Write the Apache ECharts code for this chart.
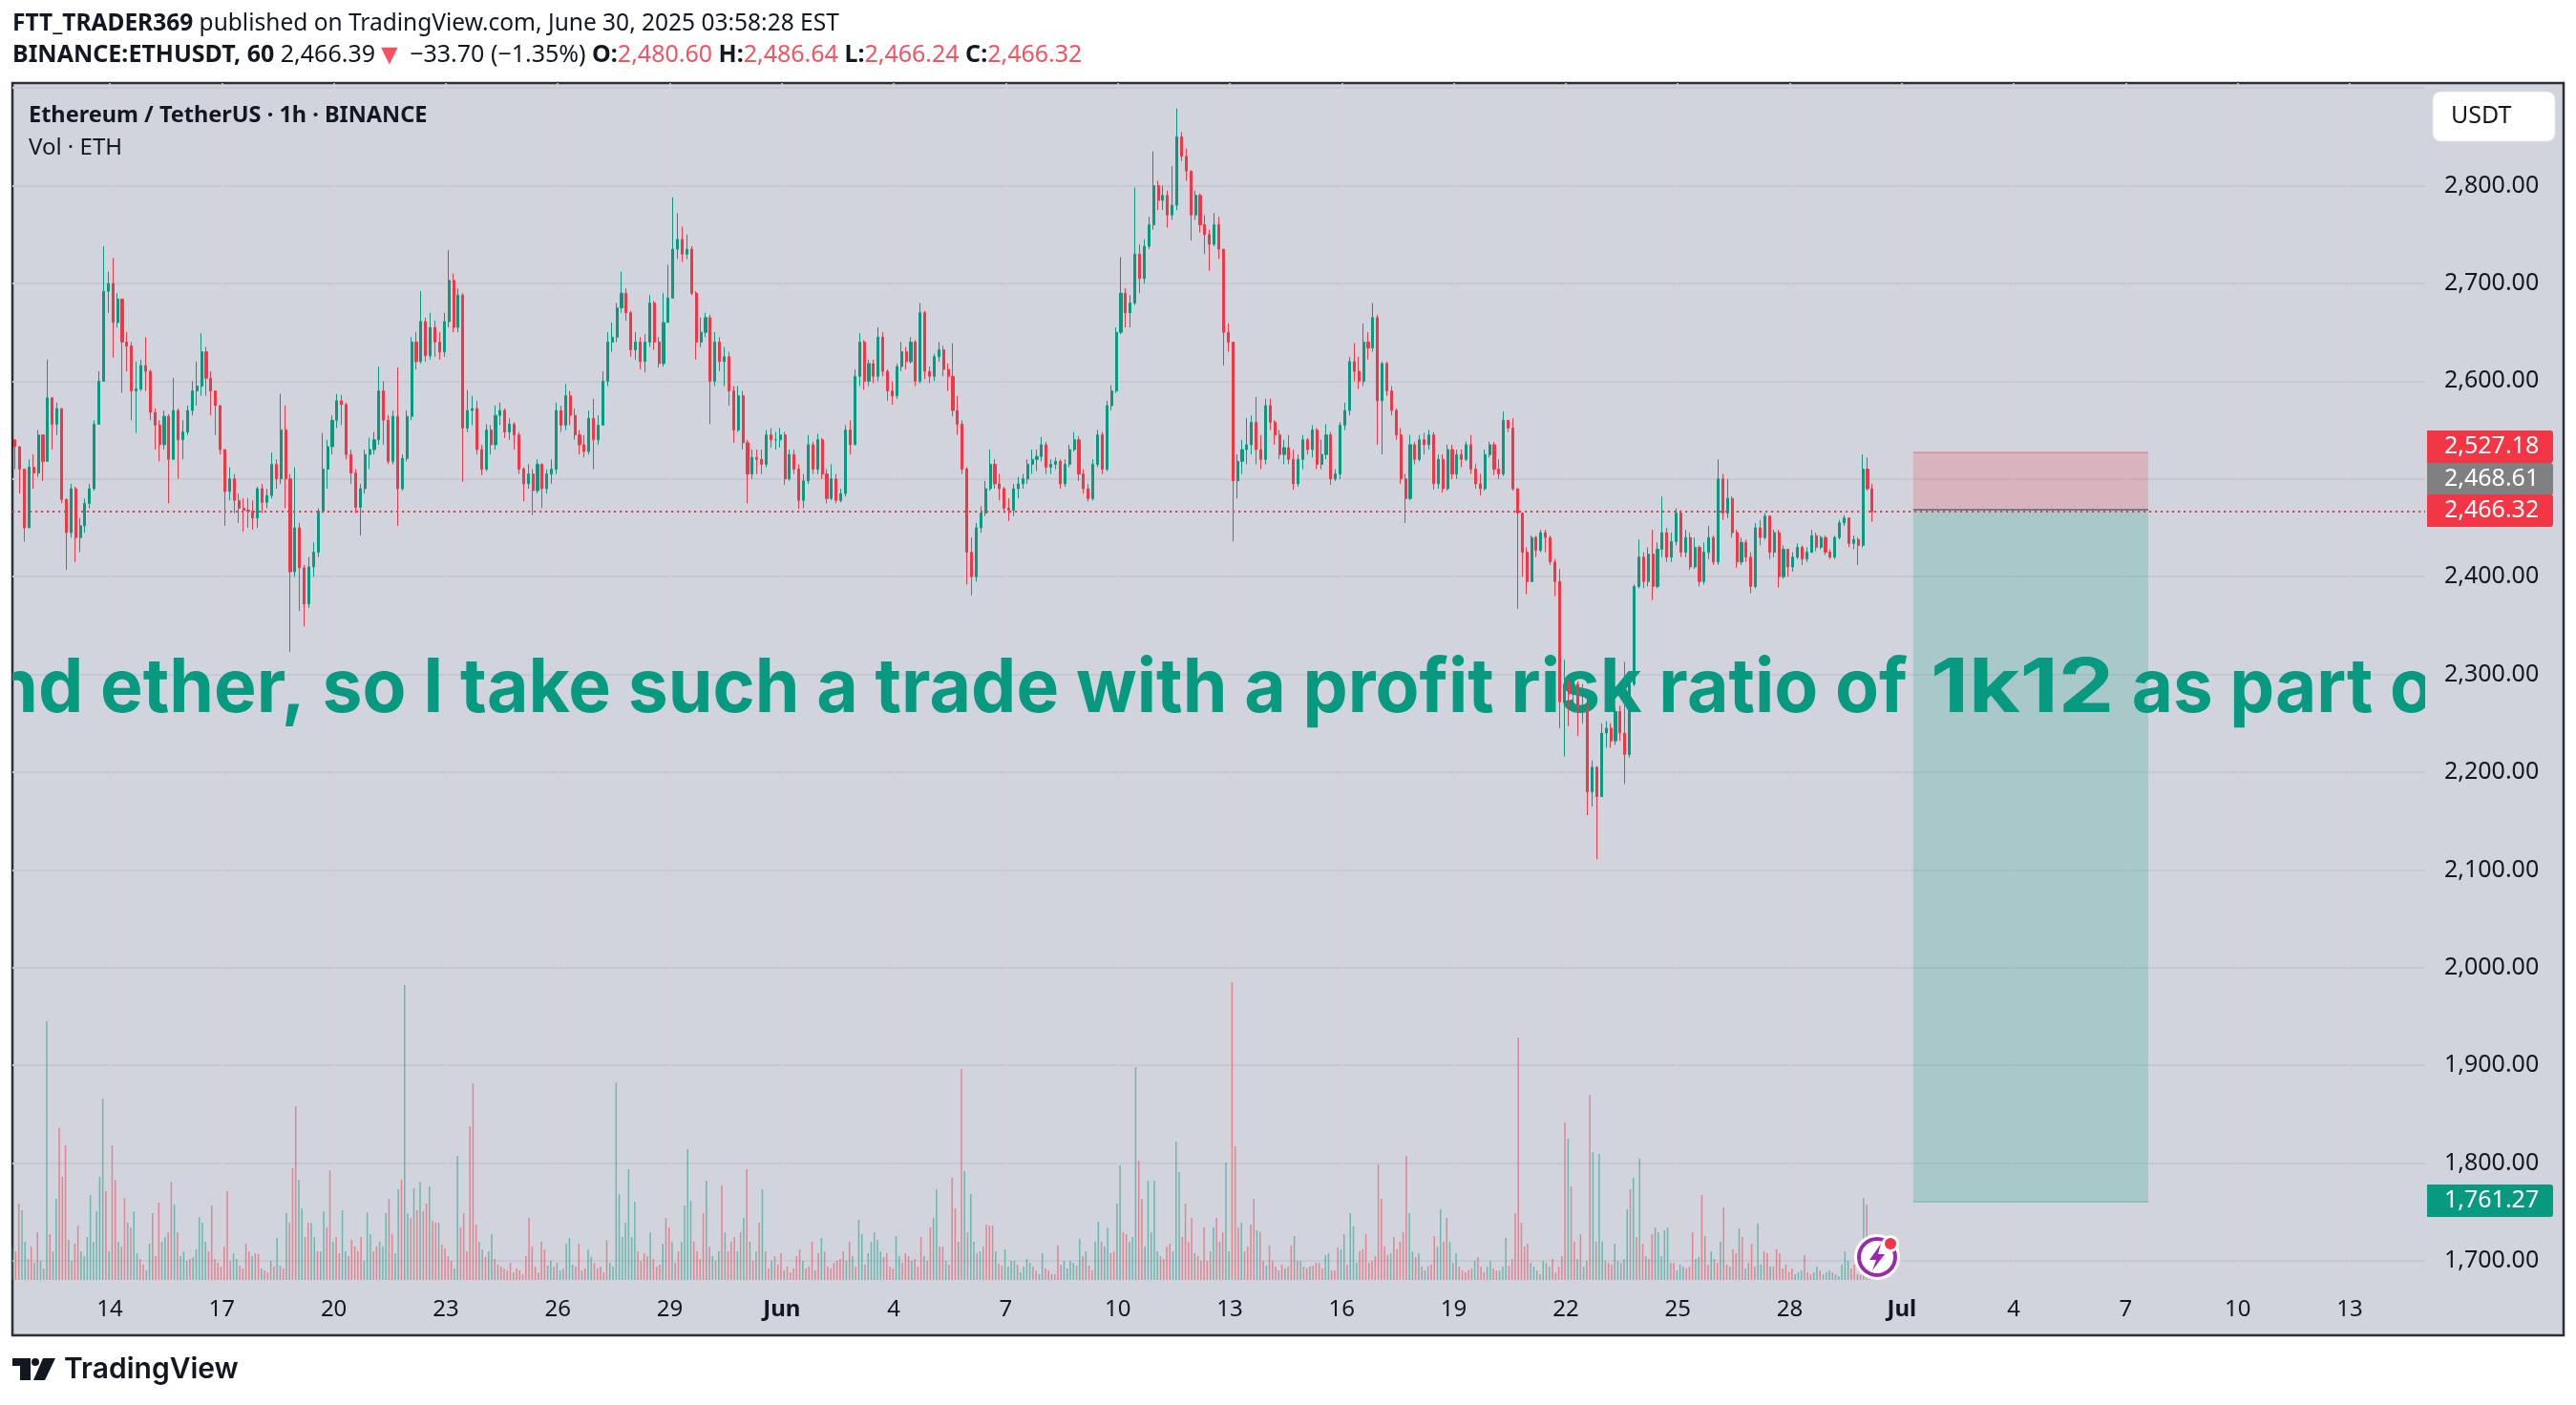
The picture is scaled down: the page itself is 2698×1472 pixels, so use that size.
<!DOCTYPE html>
<html>
<head>
<meta charset="utf-8">
<title>ETHUSDT</title>
<style>
html, body { margin: 0; padding: 0; background: #fff; }
#main { width: 2698px; height: 1472px; }
</style>
<script src="https://cdn.jsdelivr.net/npm/echarts@6.0.0/dist/echarts.min.js"></script>
</head>
<body>
<div id="main"></div>
<script>
// 3h candles, open of each bar is the close before it
var firstOpen = 2540;
var candleStart = Date.UTC(2025, 4, 11, 11);
var candleHours = 3;
var closes = [
2533,2510,2450,2512,2506,2545,2518,2583,2556,2572,2479,2445,2490,2440,2452,2475,2490,2556,2600,2692,
2700,2660,2684,2640,2636,2590,2592,2616,2610,2568,2555,2535,2564,2520,2570,2540,2548,2570,2590,2595,
2630,2603,2590,2575,2530,2487,2500,2478,2470,2468,2467,2460,2490,2476,2483,2515,2500,2550,2500,2405,
2450,2409,2372,2410,2425,2467,2510,2533,2560,2580,2576,2525,2506,2471,2490,2525,2530,2540,2590,2560,
2518,2564,2490,2521,2564,2640,2620,2661,2626,2655,2640,2630,2661,2703,2655,2688,2552,2570,2572,2530,
2510,2550,2535,2565,2570,2548,2556,2545,2510,2495,2505,2488,2515,2490,2505,2510,2570,2555,2585,2565,
2545,2535,2528,2562,2540,2555,2600,2640,2645,2675,2690,2670,2632,2640,2620,2640,2680,2640,2618,2660,
2685,2735,2745,2730,2735,2690,2640,2650,2665,2600,2640,2620,2625,2590,2550,2585,2537,2505,2522,2520,
2515,2545,2540,2540,2545,2500,2525,2510,2478,2498,2535,2510,2540,2505,2480,2500,2478,2485,2550,2535,
2605,2640,2600,2618,2605,2645,2610,2590,2585,2615,2630,2620,2640,2600,2670,2610,2605,2625,2632,2612,
2605,2570,2556,2510,2425,2400,2450,2465,2490,2515,2495,2490,2470,2468,2490,2495,2500,2515,2520,2523,
2535,2512,2515,2518,2495,2515,2530,2540,2505,2490,2480,2515,2545,2510,2575,2590,2650,2690,2670,2680,
2730,2705,2738,2760,2800,2785,2790,2770,2780,2850,2830,2815,2770,2790,2760,2750,2740,2760,2735,2650,
2640,2498,2518,2530,2535,2558,2530,2520,2575,2558,2545,2525,2532,2520,2495,2520,2540,2530,2550,2515,
2525,2545,2500,2505,2555,2570,2620,2610,2600,2640,2634,2665,2580,2618,2590,2570,2545,2500,2480,2535,
2520,2540,2535,2545,2495,2520,2490,2530,2505,2525,2520,2535,2510,2495,2490,2525,2535,2510,2505,2560,
2552,2490,2465,2425,2395,2440,2427,2445,2440,2415,2395,2272,2290,2280,2290,2265,2265,2180,2205,2175,
2240,2245,2232,2262,2240,2218,2290,2390,2420,2395,2423,2390,2428,2445,2420,2436,2465,2425,2440,2410,
2430,2395,2425,2440,2415,2500,2465,2480,2445,2415,2435,2420,2390,2450,2440,2462,2425,2445,2400,2428,
2410,2420,2430,2418,2425,2442,2430,2440,2425,2420,2440,2455,2460,2434,2438,2432,2510,2490,2466.32
];
var highs = [
2538,2533,2510,2520,2525,2550,2545,2622,2583,2578,2572,2480,2495,2492,2460,2480,2495,2560,2610,2738,
2712,2726,2690,2680,2650,2640,2620,2622,2645,2612,2572,2560,2570,2566,2603,2572,2560,2575,2600,2620,
2649,2635,2610,2590,2575,2530,2512,2505,2485,2480,2480,2478,2492,2495,2490,2527,2520,2587,2575,2505,
2512,2455,2412,2420,2435,2470,2547,2540,2565,2587,2586,2578,2530,2510,2495,2530,2542,2548,2615,2600,
2565,2570,2614,2525,2570,2645,2650,2692,2665,2670,2662,2650,2670,2734,2710,2695,2690,2591,2585,2580,
2535,2556,2555,2575,2578,2572,2562,2558,2548,2512,2515,2510,2520,2516,2510,2520,2578,2575,2597,2590,
2572,2550,2545,2570,2582,2565,2610,2650,2660,2680,2712,2695,2672,2650,2645,2648,2688,2682,2645,2690,
2719,2788,2772,2758,2750,2738,2692,2665,2670,2668,2650,2645,2635,2630,2595,2595,2590,2540,2530,2530,
2530,2550,2552,2548,2552,2548,2530,2530,2515,2505,2545,2538,2546,2542,2510,2515,2505,2490,2555,2560,
2612,2649,2642,2622,2622,2655,2650,2612,2600,2618,2640,2635,2645,2642,2680,2672,2615,2628,2640,2636,
2618,2639,2585,2560,2512,2440,2455,2472,2498,2530,2520,2505,2492,2480,2495,2502,2505,2520,2530,2530,
2543,2538,2520,2522,2520,2520,2535,2548,2544,2510,2495,2520,2550,2548,2580,2596,2655,2727,2695,2688,
2798,2740,2745,2768,2835,2805,2800,2795,2820,2879,2855,2838,2815,2795,2792,2770,2755,2772,2768,2735,
2659,2640,2525,2540,2562,2565,2584,2545,2582,2582,2560,2550,2540,2545,2530,2525,2545,2542,2555,2552,
2540,2556,2548,2510,2558,2578,2625,2639,2625,2659,2650,2680,2668,2620,2620,2595,2572,2552,2505,2545,
2538,2545,2547,2550,2548,2525,2525,2535,2535,2530,2530,2538,2545,2515,2505,2530,2538,2538,2520,2569,
2558,2562,2490,2436,2430,2442,2442,2448,2448,2442,2418,2408,2315,2295,2300,2293,2290,2270,2212,2206,
2250,2252,2250,2265,2268,2313,2295,2392,2438,2425,2430,2448,2435,2482,2450,2445,2470,2468,2448,2445,
2440,2432,2435,2452,2442,2520,2505,2500,2482,2448,2440,2438,2425,2455,2458,2465,2462,2448,2448,2432,
2418,2425,2434,2432,2430,2448,2445,2442,2442,2428,2442,2458,2463,2458,2442,2440,2525,2522,2495
];
var lows = [
2510,2485,2436,2450,2490,2502,2498,2518,2530,2545,2475,2407,2440,2415,2425,2445,2470,2488,2556,2600,
2670,2624,2655,2588,2610,2560,2547,2590,2590,2560,2530,2518,2530,2475,2520,2500,2520,2545,2565,2575,
2585,2585,2565,2545,2525,2452,2478,2465,2455,2446,2450,2448,2450,2465,2470,2480,2490,2495,2470,2323,
2400,2365,2349,2368,2400,2420,2465,2490,2525,2552,2555,2520,2495,2465,2442,2485,2510,2525,2535,2535,
2515,2515,2452,2488,2518,2560,2612,2618,2620,2622,2625,2622,2625,2655,2650,2650,2497,2548,2555,2525,
2504,2508,2525,2530,2555,2542,2540,2530,2505,2477,2490,2463,2485,2470,2485,2495,2505,2548,2550,2555,
2540,2525,2522,2525,2510,2535,2555,2595,2630,2640,2670,2662,2625,2622,2612,2609,2635,2632,2614,2615,
2670,2730,2725,2722,2725,2688,2622,2635,2645,2556,2595,2610,2595,2575,2537,2548,2530,2475,2500,2505,
2505,2512,2532,2530,2532,2494,2498,2505,2469,2470,2495,2505,2505,2500,2475,2478,2475,2476,2482,2525,
2535,2595,2591,2595,2598,2600,2605,2580,2576,2582,2610,2612,2618,2595,2598,2602,2598,2600,2620,2605,
2590,2564,2545,2505,2392,2381,2395,2445,2462,2488,2490,2478,2465,2457,2462,2480,2490,2495,2505,2508,
2518,2505,2505,2510,2490,2492,2512,2528,2498,2485,2477,2478,2512,2505,2508,2570,2588,2648,2655,2655,
2678,2690,2700,2735,2755,2775,2775,2757,2765,2775,2825,2805,2744,2765,2752,2730,2713,2738,2725,2616,
2630,2436,2480,2505,2515,2525,2515,2510,2515,2550,2535,2520,2515,2515,2489,2492,2510,2525,2522,2510,
2510,2520,2494,2498,2500,2550,2565,2600,2592,2595,2622,2630,2535,2525,2585,2565,2540,2495,2455,2478,
2515,2518,2525,2530,2489,2490,2486,2488,2500,2500,2512,2518,2505,2490,2483,2488,2522,2504,2500,2503,
2548,2488,2367,2400,2382,2395,2420,2425,2425,2412,2380,2245,2216,2247,2272,2237,2250,2156,2165,2111,
2175,2225,2225,2228,2232,2188,2215,2288,2388,2388,2390,2376,2388,2420,2415,2415,2432,2420,2420,2407,
2408,2390,2392,2418,2412,2412,2458,2460,2440,2409,2412,2415,2383,2388,2432,2438,2418,2420,2389,2398,
2400,2405,2418,2412,2415,2424,2426,2428,2422,2418,2418,2438,2452,2430,2428,2412,2430,2488,2456
];
// volume at 2h spacing, negative means a falling bar
var volumeStart = Date.UTC(2025, 4, 11, 9, 30);
var volumeHours = 2;
var volumes = [
34,-30,-80,73,40,-22,-35,18,-50,20,-12,271,-48,30,85,-159,-108,-141,42,-20,
-38,-57,30,25,45,89,40,72,108,190,-93,30,-141,-105,40,-35,-86,60,-55,72,
28,-22,-16,10,38,-70,-25,-81,40,45,-50,-103,79,-50,25,30,20,-22,24,32,
66,60,40,-30,-78,-22,-18,-14,-35,-93,-20,28,22,-15,-12,-38,-30,25,-28,-27,
12,-10,-8,20,-14,44,-15,-12,70,-60,-117,-182,105,75,-45,-60,60,45,-30,30,
72,-55,-115,40,-45,-28,73,30,-25,-42,-35,-30,-45,20,71,48,-30,-35,40,35,
70,-85,-48,28,95,-105,309,70,-65,96,-73,103,-72,-80,98,-62,-60,60,-37,-33,
-25,-20,12,130,-55,-70,-30,-161,-206,-58,40,-32,-24,30,48,-22,16,-14,-12,-10,
-18,-8,-12,-10,-6,-25,-65,-35,-14,-8,-40,-32,15,20,-14,18,10,-12,38,44,
16,-14,-38,10,-12,32,24,-18,-12,-14,-8,-42,18,14,207,90,45,60,116,45,
82,-30,-20,-28,-25,50,-22,-14,-16,38,-65,-55,40,-18,-30,40,78,137,83,-40,
-30,-22,-70,104,-35,25,-20,30,-99,50,-30,-40,-45,30,-50,65,-116,40,-20,30,
-60,95,-30,-12,20,-25,-16,-28,10,-14,-8,-12,-25,-32,20,-12,-14,-40,-10,-28,
44,-30,-14,-12,-18,-20,-22,-30,20,-40,25,-14,63,48,-16,28,40,50,42,30,
-24,-28,-14,-12,46,25,-18,-28,-25,20,-22,-14,-45,25,-20,-55,65,95,-35,-35,
20,-16,-107,-75,40,-221,114,-50,90,40,-28,30,-35,-58,-57,-57,30,-17,-15,32,
14,20,20,-16,8,14,22,18,-14,-10,6,28,-12,-10,6,-6,-36,-16,20,12,
20,18,-15,43,-25,30,-15,-10,40,61,-40,35,55,-28,-30,80,120,-50,-48,40,
45,223,-125,-85,35,104,50,104,30,-25,-22,-35,-38,30,145,113,-45,-80,-40,-65,
28,-25,-20,-55,-20,-30,55,-65,40,-50,123,30,-312,-140,-55,60,-30,-35,-58,-85,
52,-50,-20,15,-36,-20,-14,10,-16,12,-14,-36,46,-20,20,-14,-12,14,-15,-18,
-18,-12,26,28,-10,-10,-34,32,48,-16,70,56,18,-30,-32,-48,-18,-20,-25,-121,
-85,-35,-26,28,-45,-32,-40,-50,-130,70,30,-24,28,-14,10,-14,-16,-46,35,74,
-40,-65,40,-18,28,-14,-10,-8,-10,-12,20,-24,-14,-8,14,20,-12,-10,10,14,
44,-15,-22,-70,-254,-60,-35,-38,18,14,-10,6,20,-18,14,-22,-8,-14,-25,-165,
148,-98,-40,22,-48,14,-20,-194,134,-40,132,40,-20,-18,-16,38,20,-18,22,74,
-95,107,-45,127,-38,25,-22,-48,55,50,25,52,55,-18,-18,10,16,14,-12,-14,
-50,22,24,-89,-46,-16,30,-22,-18,40,-76,-16,14,-32,-28,54,-45,12,-18,-38,
-14,59,16,-30,-28,14,-14,-32,-28,-12,-16,-8,-12,6,8,10,-26,-8,-6,8,
14,-10,6,8,10,-8,6,4,16,30,20,-12,-16,6,-5,86,-79,45,-8,-5
];
var priceTicks = [1700,1800,1900,2000,2100,2200,2300,2400,2500,2600,2700,2800,2900];
// 2,500 sits under the price tags and 2,900 under the currency button
var priceLabels = [1700,1800,1900,2000,2100,2200,2300,2400,2600,2700,2800];
var dateTicks = [
[4,14],[4,17],[4,20],[4,23],[4,26],[4,29],[5,1],[5,4],[5,7],[5,10],[5,13],[5,16],[5,19],[5,22],[5,25],[5,28],
[6,1],[6,4],[6,7],[6,10],[6,13]
];
var dateLabels = ['14','17','20','23','26','29','Jun','4','7','10','13','16','19','22','25','28','Jul','4','7','10','13'];
var stopPrice = 2527.18;
var entryPrice = 2468.61;
var lastPrice = 2466.32;
var targetPrice = 1761.27;
var noteParts = ['nd ether, so I take such a trade with a profit risk ratio of', '1k12', 'as part o'];
var noteDays = [9.885, 61.77, 67.16];
var noteStretch = [0.962, 1.19, 0.955];
var notePrice = 2284;

var GREEN = '#089981', RED = '#f23645', INK = '#131722', PANE = '#d1d4dc';
var FONT = '"Noto Sans", "Open Sans", sans-serif';

// the x axis counts days from May 1
function day(month, date, h, m) {
    return (Date.UTC(2025, month, date, h || 0, m || 0) - Date.UTC(2025, 4, 1)) / 86400000;
}
var boxStart = day(6, 1, 7, 24);
var boxEnd = day(6, 7, 14, 30);
var hourInDays = 1 / 24;
var candleFirst = (candleStart - Date.UTC(2025, 4, 1)) / 86400000;
var volumeFirst = (volumeStart - Date.UTC(2025, 4, 1)) / 86400000;

var candleData = [];
for (var i = 0; i < closes.length; i++) {
    var open = i == 0 ? firstOpen : closes[i - 1];
    candleData.push([candleFirst + i * candleHours * hourInDays, open, closes[i], lows[i], highs[i]]);
}
var volumeData = [];
for (var j = 0; j < volumes.length; j++) {
    volumeData.push({
        value: [volumeFirst + j * volumeHours * hourInDays, Math.abs(volumes[j])],
        itemStyle: { color: volumes[j] < 0 ? 'rgba(242,54,69,0.5)' : 'rgba(8,153,129,0.5)' }
    });
}
var tickDays = dateTicks.map(function (d) { return day(d[0], d[1]); });

function tag(y, h, color, text) {
    return {
        type: 'group', z: 20,
        children: [
            { type: 'rect', shape: { x: 2542, y: y, width: 132, height: h, r: [0, 3, 3, 0] }, style: { fill: color } },
            { type: 'text', style: { x: 2560, y: y + h / 2, text: text, fill: '#fff', font: '25px ' + FONT, textVerticalAlign: 'middle' } }
        ]
    };
}

var chart = echarts.init(document.getElementById('main'));
chart.setOption({
    animation: false,
    backgroundColor: '#ffffff',
    textStyle: { fontFamily: FONT },
    grid: { left: 13, right: 158, top: 87, bottom: 131 },
    xAxis: {
        type: 'value',
        min: day(4, 11, 9, 23),
        max: day(6, 15, 0, 30),
        axisLine: { show: false },
        axisTick: { show: false, customValues: tickDays },
        splitLine: { show: true, lineStyle: { color: '#d7d2d3', width: 1.5 } },
        axisLabel: {
            customValues: tickDays,
            hideOverlap: false,
            margin: 19,
            color: INK,
            fontSize: 24,
            fontFamily: FONT,
            formatter: function (v) {
                var s = dateLabels[tickDays.indexOf(+v)];
                return (s == 'Jun' || s == 'Jul') ? '{b|' + s + '}' : s;
            },
            rich: { b: { fontWeight: 700, fontSize: 24, color: INK, fontFamily: FONT } }
        }
    },
    yAxis: [{
        type: 'value',
        position: 'right',
        min: 1680.5,
        max: 2905,
        axisLine: { show: false },
        axisTick: { show: false, customValues: priceTicks },
        splitLine: { show: true, lineStyle: { color: '#c5c8d0', width: 2 } },
        axisLabel: {
            customValues: priceLabels,
            margin: 20,
            color: INK,
            fontSize: 25,
            fontFamily: FONT,
            formatter: function (v) {
                return Number(v).toLocaleString('en-US', { minimumFractionDigits: 2, maximumFractionDigits: 2 });
            }
        }
    }, {
        type: 'value',
        min: 0,
        max: 1254,
        show: false,
        splitLine: { show: false }
    }],
    series: [{
        type: 'bar',
        name: 'Vol',
        yAxisIndex: 1,
        barWidth: 1.5,
        z: 1,
        data: volumeData
    }, {
        type: 'custom',
        name: 'note',
        clip: true,
        z: 1,
        encode: { x: 0, y: 1 },
        data: noteDays.map(function (d) { return [d, notePrice]; }),
        renderItem: function (params, api) {
            var p = api.coord([api.value(0), api.value(1)]);
            return {
                type: 'text',
                x: p[0],
                y: p[1],
                scaleX: noteStretch[params.dataIndex],
                style: { text: noteParts[params.dataIndex], fill: GREEN, font: '700 78px Inter, sans-serif', textVerticalAlign: 'middle' }
            };
        }
    }, {
        type: 'line',
        name: 'entry',
        z: 1,
        symbol: 'none',
        lineStyle: { color: '#787b86', width: 2 },
        data: [[boxStart, entryPrice], [boxEnd, entryPrice]],
        markArea: {
            silent: true,
            data: [
                [{ coord: [boxStart, stopPrice], itemStyle: { color: 'rgba(242,54,69,0.2)' } }, { coord: [boxEnd, entryPrice] }],
                [{ coord: [boxStart, entryPrice], itemStyle: { color: 'rgba(8,153,129,0.2)' } }, { coord: [boxEnd, targetPrice] }]
            ]
        },
        markLine: {
            silent: true,
            symbol: 'none',
            label: { show: false },
            data: [
                [{ coord: [boxStart, stopPrice], lineStyle: { color: 'rgba(242,54,69,0.3)', width: 2, type: 'solid' } }, { coord: [boxEnd, stopPrice] }],
                [{ coord: [boxStart, targetPrice], lineStyle: { color: 'rgba(8,153,129,0.3)', width: 2, type: 'solid' } }, { coord: [boxEnd, targetPrice] }]
            ]
        }
    }, {
        type: 'candlestick',
        name: 'ETHUSDT',
        z: 3,
        barWidth: 2.6,
        encode: { x: 0, y: [1, 2, 3, 4] },
        itemStyle: { color: GREEN, color0: RED, borderColor: GREEN, borderColor0: RED, borderWidth: 1 },
        data: candleData,
        markLine: {
            silent: true,
            symbol: 'none',
            label: { show: false },
            lineStyle: { color: RED, width: 2, type: [2, 4] },
            data: [{ yAxis: lastPrice }]
        }
    }],
    graphic: [
        { type: 'rect', z: -10, shape: { x: 13, y: 87, width: 2672, height: 1312 }, style: { fill: PANE, stroke: '#2a2e39', lineWidth: 2.5 } },
        {
            type: 'text', z: 20,
            style: {
                x: 13, y: 25, textVerticalAlign: 'middle', fill: INK, font: '24.5px ' + FONT,
                text: '{b|FTT_TRADER369} published on TradingView.com, June 30, 2025 03:58:28 EST',
                rich: { b: { fontWeight: 700, fontSize: 24.5, fill: INK, fontFamily: FONT } }
            }
        },
        {
            type: 'text', z: 20,
            style: {
                x: 13, y: 58, textVerticalAlign: 'middle', fill: INK, font: '25px ' + FONT,
                text: '{b|BINANCE:ETHUSDT, 60} 2,466.39{t|▼} −33.70 (−1.35%) {b|O:}{r|2,480.60} {b|H:}{r|2,486.64} {b|L:}{r|2,466.24} {b|C:}{r|2,466.32}',
                rich: {
                    b: { fontWeight: 700, fontSize: 25, fill: INK, fontFamily: FONT },
                    r: { fontSize: 25, fill: '#f7525f', fontFamily: FONT },
                    t: { fontSize: 30, fill: '#f7525f', fontFamily: FONT }
                }
            }
        },
        { type: 'text', z: 20, style: { x: 30, y: 121, textVerticalAlign: 'middle', text: 'Ethereum / TetherUS · 1h · BINANCE', fill: INK, font: '700 23.5px ' + FONT } },
        { type: 'text', z: 20, style: { x: 30, y: 155, textVerticalAlign: 'middle', text: 'Vol · ETH', fill: INK, font: '24px ' + FONT } },
        { type: 'rect', z: 20, shape: { x: 2548, y: 96, width: 128, height: 52, r: 8 }, style: { fill: '#ffffff', stroke: '#e0e3eb', lineWidth: 1 } },
        { type: 'text', z: 21, style: { x: 2567, y: 122, textVerticalAlign: 'middle', text: 'USDT', fill: INK, font: '25px ' + FONT } },
        tag(451, 34, RED, '2,527.18'),
        tag(485, 34, '#808080', '2,468.61'),
        tag(518, 34, RED, '2,466.32'),
        tag(1241, 34, GREEN, '1,761.27'),
        // bolt badge on the last bars
        { type: 'circle', z: 22, shape: { cx: 1966, cy: 1317, r: 24 }, style: { fill: '#ffffff' } },
        { type: 'circle', z: 23, shape: { cx: 1966, cy: 1317, r: 19 }, style: { fill: '#ffffff', stroke: '#9c27b0', lineWidth: 4 } },
        { type: 'polygon', z: 24, shape: { points: [[1970, 1303], [1958, 1320], [1965, 1320], [1961, 1331], [1974, 1314], [1967, 1314]] }, style: { fill: '#9c27b0' } },
        { type: 'circle', z: 24, shape: { cx: 1980, cy: 1303, r: 9 }, style: { fill: '#ffffff' } },
        { type: 'circle', z: 25, shape: { cx: 1980, cy: 1303, r: 6 }, style: { fill: RED } },
        // TradingView mark
        { type: 'polygon', z: 20, shape: { points: [[13, 1423], [32, 1423], [32, 1446], [21, 1446], [21, 1431], [13, 1431]] }, style: { fill: INK } },
        { type: 'circle', z: 20, shape: { cx: 37, cy: 1427, r: 4 }, style: { fill: INK } },
        { type: 'polygon', z: 20, shape: { points: [[45, 1423], [58, 1423], [47, 1446], [35, 1446]] }, style: { fill: INK } },
        { type: 'text', z: 20, style: { x: 67, y: 1435, textVerticalAlign: 'middle', text: 'TradingView', fill: INK, font: '600 30px Inter, sans-serif' } }
    ]
});
</script>
</body>
</html>
